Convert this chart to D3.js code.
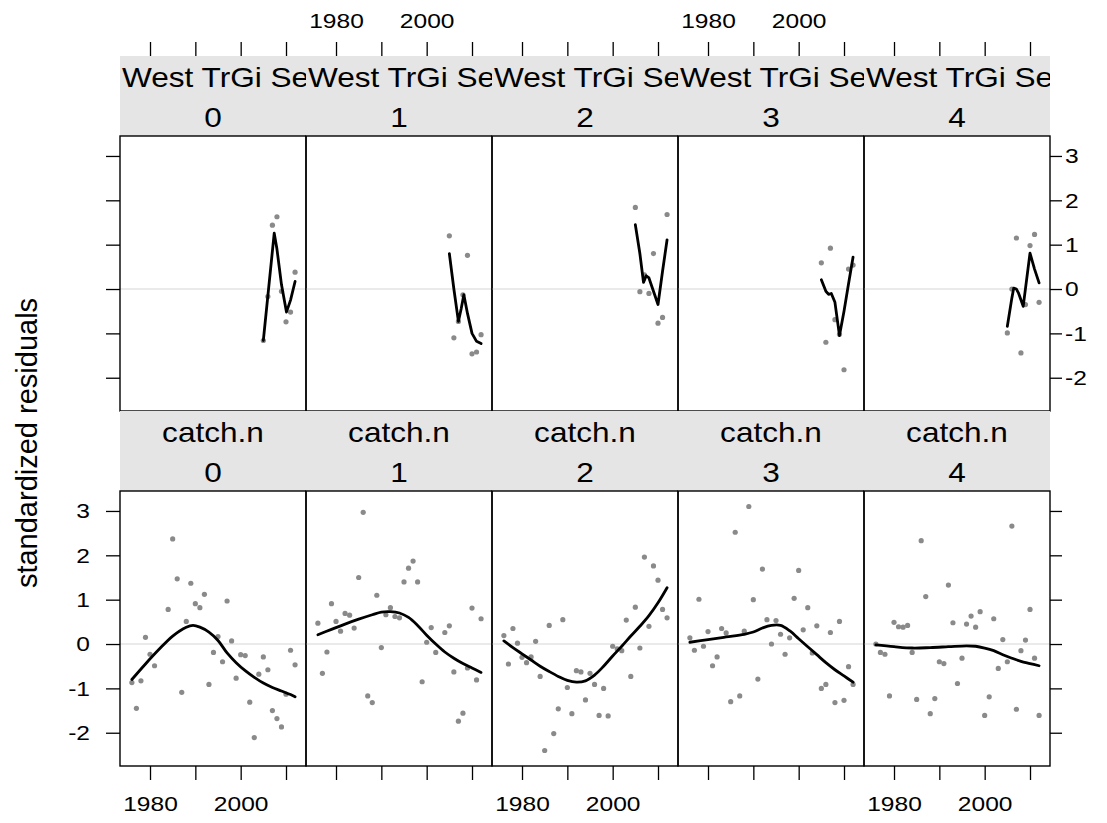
<!DOCTYPE html>
<html><head><meta charset="utf-8">
<script src="https://cdn.jsdelivr.net/npm/d3@7"></script>
<style>
body{margin:0;background:#fff}
text{font-family:"Liberation Sans",Arial,Helvetica,sans-serif;fill:#000}
</style>
</head><body><svg id="c" width="1107" height="823"></svg>
<script>
// ---------- data ----------
const ages = ["0", "1", "2", "3", "4"];
const surveyName = "West TrGi Se";
const catchName = "catch.n";
const yLabel = "standardized residuals";
const yTicks = [-2, -1, 0, 1, 2, 3];
const xTicks = [1980, 1990, 2000, 2010];
const xTickLabels = ["1980", "", "2000", ""];

// survey index residuals, years 2005-2012
const surveyYears = [2005, 2006, 2007, 2008, 2009, 2010, 2011, 2012];
const survey0 = [-1.16, -0.17, 1.44, 1.63, -0.05, -0.74, -0.52, 0.38];
const survey1 = [1.20, -1.10, -0.73, -0.13, 0.76, -1.46, -1.42, -1.03];
const survey2 = [1.84, -0.06, 0.32, -0.10, 0.80, -0.77, -0.64, 1.68];
const survey3 = [0.59, -1.20, 0.92, -0.69, -1.02, -1.82, 0.45, 0.54];
const survey4 = [-0.99, 0.00, 1.15, -1.44, -0.35, 0.98, 1.23, -0.30];

// survey smoother
const surveyFit0 = [[2005,-1.16],[2007.4,1.26],[2008,0.9],[2009,0.1],[2010.1,-0.52],[2011,-0.25],[2012,0.17]];
const surveyFit1 = [[2005,0.8],[2006,0.0],[2007,-0.73],[2007.6,-0.45],[2008.2,-0.13],[2009,-0.55],[2010,-1.0],[2011,-1.18],[2012,-1.23]];
const surveyFit2 = [[2005,1.45],[2006,0.8],[2006.8,0.15],[2007.4,0.3],[2008,0.25],[2009,-0.05],[2010,-0.35],[2011,0.4],[2012,1.11]];
const surveyFit3 = [[2005,0.21],[2006,-0.05],[2006.6,-0.12],[2007.2,-0.1],[2008,-0.3],[2009,-1.05],[2010,-0.5],[2011,0.12],[2012,0.72]];
const surveyFit4 = [[2005,-0.84],[2006,-0.2],[2006.4,0.02],[2007,0.0],[2007.5,-0.1],[2008.5,-0.39],[2010,0.81],[2011,0.45],[2012,0.14]];

// catch residuals [year, value]
const catch0 = [[1976,-0.87],[1977,-1.45],[1978,-0.83],[1979,0.15],[1980,-0.23],[1981,-0.49],[1984,0.78],[1985,2.37],[1986,1.47],[1987,-1.09],[1988,0.51],[1989,1.37],[1990,0.91],[1991,0.82],[1992,1.12],[1993,-0.91],[1994,-0.19],[1995,0.17],[1996,-0.40],[1997,0.97],[1998,0.07],[1999,-0.77],[2000,-0.24],[2001,-0.26],[2002,-1.31],[2003,-2.11],[2004,-0.68],[2005,-0.29],[2006,-0.58],[2007,-1.50],[2008,-1.68],[2009,-1.87],[2010,-1.13],[2011,-0.14],[2012,-0.47]];
const catch1 = [[1976,0.47],[1977,-0.66],[1978,-0.18],[1979,0.91],[1980,0.51],[1981,0.29],[1982,0.69],[1983,0.65],[1984,0.36],[1985,1.50],[1986,2.97],[1987,-1.17],[1988,-1.32],[1989,1.10],[1990,-0.08],[1991,0.66],[1992,0.82],[1993,0.62],[1994,0.59],[1995,1.40],[1996,1.71],[1997,1.87],[1998,1.40],[1999,-0.85],[2000,0.04],[2001,0.37],[2002,-0.19],[2004,0.26],[2005,0.41],[2006,-0.63],[2007,-1.74],[2008,-1.56],[2009,-0.54],[2010,0.81],[2011,-0.81],[2012,0.57]];
const catch2 = [[1976,0.19],[1977,-0.45],[1978,0.35],[1979,0.02],[1980,-0.30],[1981,-0.42],[1982,-0.29],[1983,0.06],[1984,-0.73],[1985,-2.40],[1986,0.42],[1987,-2.02],[1988,-1.46],[1989,0.55],[1990,-0.98],[1991,-1.57],[1992,-0.60],[1993,-0.63],[1994,-1.26],[1995,-0.66],[1996,-0.91],[1997,-1.61],[1998,-1.00],[1999,-1.62],[2000,-0.05],[2001,-0.11],[2002,-0.15],[2003,0.54],[2004,-0.73],[2005,0.83],[2006,-0.09],[2007,1.96],[2008,0.40],[2009,1.76],[2010,1.44],[2011,0.78],[2012,0.59]];
const catch3 = [[1976,0.14],[1977,-0.14],[1978,1.01],[1979,-0.05],[1980,0.28],[1981,-0.49],[1982,-0.29],[1983,0.35],[1984,0.25],[1985,-1.30],[1986,2.52],[1987,-1.17],[1988,0.29],[1989,3.10],[1990,1.00],[1991,-0.79],[1992,1.69],[1993,0.55],[1994,0.00],[1995,0.53],[1996,0.22],[1997,-0.23],[1998,0.14],[1999,1.03],[2000,1.66],[2001,0.32],[2002,0.82],[2003,-0.20],[2004,0.41],[2005,-1.00],[2006,-0.91],[2007,0.26],[2008,-1.32],[2009,0.51],[2010,-1.27],[2011,-0.51],[2012,-0.91]];
const catch4 = [[1976,0.00],[1977,-0.19],[1978,-0.23],[1979,-1.17],[1980,0.49],[1981,0.39],[1982,0.38],[1983,0.42],[1984,-0.19],[1985,-1.25],[1986,2.33],[1987,1.07],[1988,-1.57],[1989,-1.23],[1990,-0.40],[1991,-0.44],[1992,1.33],[1993,0.48],[1994,-0.89],[1995,-0.32],[1996,0.45],[1997,0.63],[1998,0.38],[1999,0.73],[2000,-1.61],[2001,-1.19],[2002,0.57],[2003,-0.55],[2004,0.10],[2005,-0.40],[2006,2.66],[2007,-1.47],[2008,-0.15],[2009,0.09],[2010,0.78],[2011,-0.32],[2012,-1.61]];

// catch smoother
const catchFit0 = [[1976,-0.8],[1979,-0.45],[1982,-0.12],[1985,0.18],[1988,0.38],[1989.5,0.42],[1991,0.38],[1993,0.27],[1995,0.08],[1997,-0.2],[1999,-0.42],[2001,-0.6],[2003,-0.75],[2005,-0.88],[2007,-0.98],[2009,-1.06],[2011,-1.14],[2012,-1.19]];
const catchFit1 = [[1976,0.21],[1979,0.33],[1982,0.45],[1985,0.56],[1988,0.66],[1990,0.72],[1992,0.73],[1994,0.7],[1996,0.6],[1998,0.42],[2000,0.2],[2002,0.0],[2004,-0.18],[2006,-0.32],[2008,-0.44],[2010,-0.54],[2012,-0.64]];
const catchFit2 = [[1976,0.07],[1978,-0.08],[1980,-0.22],[1982,-0.36],[1984,-0.5],[1986,-0.62],[1988,-0.73],[1990,-0.82],[1992,-0.86],[1994,-0.83],[1996,-0.7],[1998,-0.5],[2000,-0.27],[2002,-0.05],[2004,0.18],[2006,0.4],[2008,0.64],[2010,0.93],[2012,1.27]];
const catchFit3 = [[1976,0.04],[1980,0.1],[1984,0.16],[1988,0.22],[1990,0.27],[1992,0.36],[1994,0.42],[1996,0.42],[1998,0.3],[2000,0.12],[2002,-0.06],[2004,-0.24],[2006,-0.42],[2008,-0.58],[2010,-0.72],[2012,-0.86]];
const catchFit4 = [[1976,-0.02],[1980,-0.06],[1984,-0.09],[1988,-0.08],[1992,-0.06],[1996,-0.04],[1998,-0.05],[2000,-0.09],[2002,-0.15],[2004,-0.24],[2006,-0.32],[2008,-0.39],[2010,-0.44],[2012,-0.49]];

const surveyVals = [survey0, survey1, survey2, survey3, survey4];
const surveyFits = [surveyFit0, surveyFit1, surveyFit2, surveyFit3, surveyFit4];
const catchVals = [catch0, catch1, catch2, catch3, catch4];
const catchFits = [catchFit0, catchFit1, catchFit2, catchFit3, catchFit4];

// ---------- layout ----------
const svg = d3.select("#c");
svg.append("rect").attr("width", 1107).attr("height", 823).attr("fill", "#fff");
const L0 = 120, PW = 186;
const rows = [
  { stripTop: 56, top: 136, bottom: 411, name: surveyName },
  { stripTop: 411, top: 491, bottom: 766, name: catchName }
];
const xDomain = [1973.38, 2014.41];
const yDomain = [-2.75, 3.45];
const SX = 1.17;           // horizontal glyph stretch of the reference
const tickFont = 21, stripFont = 27;
const fmtY = d => d3.format("d")(d).replace("\u2212", "-");

function styleAxis(g, side, labelled) {
  g.select(".domain").remove();
  g.selectAll(".tick line").attr("stroke", "#000").attr("stroke-width", 1.3);
  const t = g.selectAll(".tick text").attr("font-size", tickFont).attr("fill", "#000");
  if (!labelled) { t.remove(); return; }
  if (side === "left") t.attr("x", -30 / SX).attr("transform", `scale(${SX},1)`);
  if (side === "right") t.attr("x", 15 / SX).attr("transform", `scale(${SX},1)`);
  if (side === "bottom") t.attr("y", 30).attr("transform", `scale(${SX},1)`);
  if (side === "top") t.attr("y", -28).attr("transform", `scale(${SX},1)`);
}

rows.forEach((row, ri) => {
  const y = d3.scaleLinear().domain(yDomain).range([row.bottom, row.top]);
  ages.forEach((age, i) => {
    const L = L0 + i * PW;
    const x = d3.scaleLinear().domain(xDomain).range([L, L + PW]);
    const g = svg.append("g");

    // strip
    const cid = `clip${ri}_${i}`;
    svg.append("clipPath").attr("id", cid).append("rect")
      .attr("x", L).attr("y", row.stripTop).attr("width", PW).attr("height", row.top - row.stripTop);
    const sg = g.append("g").attr("clip-path", `url(#${cid})`);
    sg.append("rect").attr("x", L).attr("y", row.stripTop).attr("width", PW)
      .attr("height", row.top - row.stripTop).attr("fill", "#e5e5e5");
    if (ri === 0) {
      sg.append("text").attr("transform", `translate(${L + 2},${row.stripTop + 31}) scale(${SX},1)`)
        .attr("font-size", stripFont).text(row.name);
    } else {
      sg.append("text").attr("transform", `translate(${L + PW / 2},${row.stripTop + 31}) scale(${SX},1)`)
        .attr("text-anchor", "middle").attr("font-size", stripFont).text(row.name);
    }
    sg.append("text").attr("transform", `translate(${L + PW / 2},${row.stripTop + 71}) scale(${SX},1)`)
      .attr("text-anchor", "middle").attr("font-size", stripFont).text(age);

    // zero reference line
    g.append("line").attr("x1", L).attr("x2", L + PW).attr("y1", y(0)).attr("y2", y(0))
      .attr("stroke", "#e3e3e3").attr("stroke-width", 1.6);

    // points
    const pts = ri === 0 ? surveyYears.map((yr, k) => [yr, surveyVals[i][k]]) : catchVals[i];
    g.selectAll(null).data(pts).join("circle")
      .attr("cx", d => x(d[0])).attr("cy", d => y(d[1])).attr("r", 2.6).attr("fill", "#8a8a8a");

    // smoother
    const fit = ri === 0 ? surveyFits[i] : catchFits[i];
    const line = d3.line().x(d => x(d[0])).y(d => y(d[1]))
      .curve(ri === 0 ? d3.curveLinear : d3.curveCatmullRom);
    g.append("path").attr("d", line(fit)).attr("fill", "none").attr("stroke", "#000")
      .attr("stroke-width", 2.8).attr("stroke-linejoin", "round").attr("stroke-linecap", "round");

    // border
    g.append("rect").attr("x", L).attr("y", row.top).attr("width", PW).attr("height", row.bottom - row.top)
      .attr("fill", "none").attr("stroke", "#000").attr("stroke-width", 1.4);

    // x axes
    const fmtX = (d, k) => xTickLabels[k];
    if (ri === 0) {
      const ga = svg.append("g").attr("transform", `translate(0,${row.stripTop})`)
        .call(d3.axisTop(x).tickValues(xTicks).tickSize(14).tickFormat(fmtX));
      styleAxis(ga, "top", i % 2 === 1);
    } else {
      const ga = svg.append("g").attr("transform", `translate(0,${row.bottom})`)
        .call(d3.axisBottom(x).tickValues(xTicks).tickSize(14).tickFormat(fmtX));
      styleAxis(ga, "bottom", i % 2 === 0);
    }

    // y axes
    if (i === 0) {
      const ga = svg.append("g").attr("transform", `translate(${L},0)`)
        .call(d3.axisLeft(y).tickValues(yTicks).tickSize(14).tickFormat(fmtY));
      styleAxis(ga, "left", ri === 1);
    }
    if (i === ages.length - 1) {
      const ga = svg.append("g").attr("transform", `translate(${L + PW},0)`)
        .call(d3.axisRight(y).tickValues(yTicks).tickSize(12).tickFormat(fmtY));
      styleAxis(ga, "right", ri === 0);
    }
  });
});

// y label
svg.append("text").attr("transform", "translate(37,443) rotate(-90)")
  .attr("text-anchor", "middle").attr("font-size", 29).text(yLabel);
</script>
</body></html>
